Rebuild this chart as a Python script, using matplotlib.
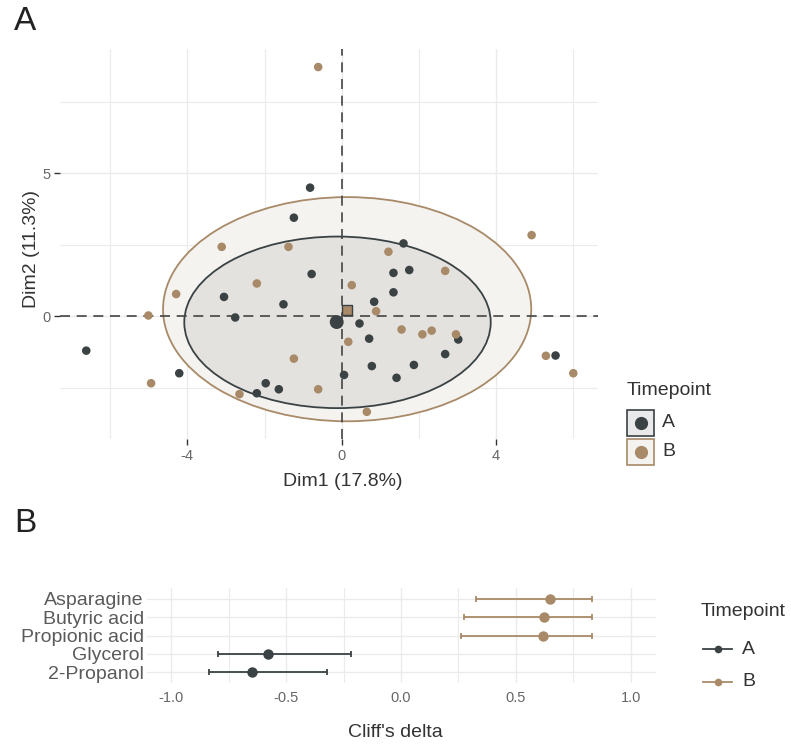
import matplotlib.pyplot as plt
from matplotlib.patches import Ellipse, Rectangle
from matplotlib.lines import Line2D

plt.rcParams['font.family'] = ['Liberation Sans', 'DejaVu Sans']
plt.rcParams['axes.unicode_minus'] = False

DARK = '#3a4244'
TAN = '#a88a68'
GRID = '#ebebeb'
TICK_COL = '#666666'

# PCA individuals, timepoint A
a_x = [-0.82, -1.24, -0.78, -3.05, -1.51, -2.76, -6.62, -4.21, -1.97, -1.63, -2.20,
       1.60, 1.34, 1.75, 1.34, 0.84, 0.46, 0.71, 3.02, 2.68, 0.78, 1.87, 0.06, 1.42, 5.54]
a_y = [4.49, 3.44, 1.47, 0.67, 0.41, -0.05, -1.21, -2.00, -2.35, -2.56, -2.70,
       2.54, 1.51, 1.61, 0.83, 0.50, -0.26, -0.79, -0.82, -1.33, -1.75, -1.71, -2.06, -2.16, -1.38]

# PCA individuals, timepoint B
b_x = [-0.61, 4.92, -3.11, -1.38, -2.20, -4.29, -5.01, -4.94, -1.24, -0.61, -2.65,
       1.21, 0.26, 2.68, 0.89, 0.17, 1.55, 2.09, 2.33, 2.96, 5.29, 6.00, 0.65]
b_y = [8.71, 2.83, 2.42, 2.42, 1.14, 0.77, 0.02, -2.35, -1.49, -2.56, -2.73,
       2.25, 1.08, 1.58, 0.17, -0.90, -0.47, -0.64, -0.51, -0.64, -1.39, -2.00, -3.35]

# group centroids and concentration ellipses (center x, center y, semi-axis x, semi-axis y)
centroid_a = (-0.13, -0.21)
centroid_b = (0.14, 0.21)
ellipse_a = (-0.11, -0.22, 3.97, 3.00)
ellipse_b = (0.14, 0.24, 4.77, 3.92)

# Cliff's delta with confidence intervals
metabolites = ['Asparagine', 'Butyric acid', 'Propionic acid', 'Glycerol', '2-Propanol']
delta = [0.648, 0.622, 0.619, -0.577, -0.646]
ci_low = [0.326, 0.274, 0.260, -0.797, -0.833]
ci_high = [0.832, 0.832, 0.832, -0.219, -0.323]
group = ['B', 'B', 'B', 'A', 'A']

W, H = 791, 747
fig = plt.figure(figsize=(W / 100, H / 100), dpi=100)


def fx(px):
    return px / W


def fy(py):
    return 1 - py / H


# ---- Panel A: PCA biplot of individuals ----
ax = fig.add_axes([fx(60), fy(439), fx(598) - fx(60), fy(49) - fy(439)])
ax.set_xlim(-7.30, 6.64)
ax.set_ylim(-4.30, 9.34)
ax.set_xticks([-4, 0, 4])
ax.set_xticks([-6, -2, 2, 6], minor=True)
ax.set_yticks([0, 5])
ax.set_yticks([-2.5, 2.5, 7.5], minor=True)
ax.grid(True, which='major', color=GRID, lw=1.0, zorder=0)
ax.grid(True, which='minor', color=GRID, lw=0.8, zorder=0)
ax.set_axisbelow(True)
for s in ax.spines.values():
    s.set_visible(False)
ax.tick_params(axis='both', which='major', length=4, width=1.0, color='#333333',
               labelcolor=TICK_COL, labelsize=10.5, pad=3)
ax.tick_params(axis='both', which='minor', length=0)

eb = Ellipse((ellipse_b[0], ellipse_b[1]), 2 * ellipse_b[2], 2 * ellipse_b[3],
             facecolor='#f4f3f0', edgecolor=TAN, lw=1.3, zorder=1)
ea = Ellipse((ellipse_a[0], ellipse_a[1]), 2 * ellipse_a[2], 2 * ellipse_a[3],
             facecolor='#e4e2df', edgecolor=DARK, lw=1.3, zorder=2)
ax.add_patch(eb)
ax.add_patch(ea)

ax.axhline(0, color='#444444', lw=1.2, ls=(0, (6, 4)), zorder=3)
ax.axvline(0, color='#444444', lw=1.2, ls=(0, (6, 4)), zorder=3)

ax.scatter(a_x, a_y, s=38, color=DARK, edgecolors='none', zorder=4)
ax.scatter(b_x, b_y, s=38, color=TAN, edgecolors='none', zorder=4)
ax.scatter([centroid_b[0]], [centroid_b[1]], s=60, marker='s', color=TAN,
           edgecolors=DARK, linewidths=1.0, zorder=5)
ax.scatter([centroid_a[0]], [centroid_a[1]], s=100, color=DARK, edgecolors='none', zorder=5)

ax.set_xlabel('Dim1 (17.8%)', fontsize=14, color='#333333')
ax.xaxis.set_label_coords(0.526, -0.087)
ax.set_ylabel('Dim2 (11.3%)', fontsize=14, color='#333333')
ax.yaxis.set_label_coords(-0.037, 0.487)

# legend for panel A
fig.text(fx(627), fy(390), 'Timepoint', fontsize=14, color='#333333', va='center', ha='left')
for i, (lab, col, fill) in enumerate([('A', DARK, '#e8e9e8'), ('B', TAN, '#f4f3f0')]):
    cy = 422.5 + i * 29.5
    fig.add_artist(Rectangle((fx(627), fy(cy + 13)), fx(27), fy(0) - fy(26),
                             transform=fig.transFigure, facecolor=fill, edgecolor=col, lw=1.2))
    fig.add_artist(Line2D([fx(640.5)], [fy(cy)], marker='o', ms=9.5, color=col,
                          mec='none', transform=fig.transFigure))
    fig.text(fx(662), fy(cy), lab, fontsize=14, color='#333333', va='center', ha='left')

fig.text(fx(14), fy(22), 'A', fontsize=24, color='#222222', va='center', ha='left')
fig.text(fx(14), fy(524), 'B', fontsize=24, color='#222222', va='center', ha='left')

# ---- Panel B: Cliff's delta ----
bx = fig.add_axes([fx(146.7), fy(683), fx(656) - fx(146.7), fy(588) - fy(683)])
ypos = list(range(len(metabolites), 0, -1))
bx.set_xlim(-1.106, 1.109)
bx.set_ylim(0.4, len(metabolites) + 0.6)
bx.set_xticks([-1.0, -0.5, 0.0, 0.5, 1.0])
bx.set_xticklabels(['-1.0', '-0.5', '0.0', '0.5', '1.0'])
bx.set_xticks([-0.75, -0.25, 0.25, 0.75], minor=True)
bx.set_yticks(ypos)
bx.set_yticklabels(metabolites)
bx.grid(True, which='major', color=GRID, lw=1.0, zorder=0)
bx.grid(True, which='minor', axis='x', color=GRID, lw=0.8, zorder=0)
bx.set_axisbelow(True)
for s in bx.spines.values():
    s.set_visible(False)
bx.tick_params(axis='both', which='both', length=0)
bx.tick_params(axis='x', labelcolor=TICK_COL, labelsize=10.5, pad=6)
bx.tick_params(axis='y', labelcolor='#5a5a5a', labelsize=14, pad=2)

for yv, d, lo, hi, g in zip(ypos, delta, ci_low, ci_high, group):
    col = DARK if g == 'A' else TAN
    bx.errorbar([d], [yv], xerr=[[d - lo], [hi - d]], fmt='o', ms=7.5, color=col,
                mec='none', elinewidth=1.3, capsize=2.5, capthick=1.3, zorder=3)

bx.set_xlabel("Cliff's delta", fontsize=14, color='#333333')
bx.xaxis.set_label_coords(0.489, -0.43)

# legend for panel B
fig.text(fx(701), fy(612), 'Timepoint', fontsize=14, color='#333333', va='center', ha='left')
for i, (lab, col) in enumerate([('A', DARK), ('B', TAN)]):
    cy = 649 + i * 33
    fig.add_artist(Line2D([fx(703), fx(732)], [fy(cy), fy(cy)], color=col, lw=1.3,
                          transform=fig.transFigure))
    fig.add_artist(Line2D([fx(717.5)], [fy(cy)], marker='o', ms=5.5, color=col,
                          mec='none', transform=fig.transFigure))
    fig.text(fx(742), fy(cy), lab, fontsize=14, color='#333333', va='center', ha='left')

fig.savefig('out.png', dpi=100)
